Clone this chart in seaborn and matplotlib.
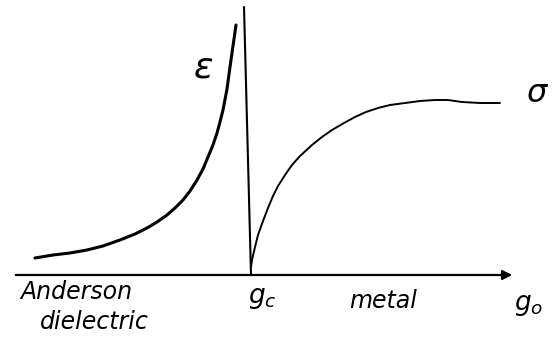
import matplotlib
matplotlib.use('Agg')
import matplotlib.pyplot as plt
import seaborn as sns

# values (g0 in arbitrary units, g_c at 251)
g_eps = [35, 53, 70, 87, 103, 120, 135, 147, 157, 167, 175, 183, 190, 197,
         203, 208, 213, 217, 220, 223, 227, 230, 233, 236]
eps = [17, 20, 22, 25, 29, 35, 41, 47, 53, 60, 67, 75, 84, 95,
       106, 118, 130, 142, 153, 165, 186, 208, 229, 250]

g_sigma = [251, 252, 255, 258, 263, 268, 273, 278, 285, 292, 300, 312, 322,
           332, 344, 355, 366, 378, 390, 405, 420, 435, 448, 462, 480, 500]
sigma = [8, 15, 28, 40, 54, 67, 79, 89, 100, 110, 119, 130, 138,
         145, 152, 158, 163, 167, 170, 172, 174, 175, 175, 173, 172, 172]

g_c = 251
g_axis = [13, 515]
line_top = 268

sns.set_style("white")
fig, ax = plt.subplots(figsize=(5.53, 3.39), dpi=100)
fig.subplots_adjust(left=0, right=1, bottom=0, top=1)

sns.lineplot(x=g_eps, y=eps, ax=ax, color='black', linewidth=2.2, sort=False)
sns.lineplot(x=g_sigma, y=sigma, ax=ax, color='black', linewidth=1.4, sort=False)

# vertical line at g_c, slightly slanted like the sketch
ax.plot([g_c - 7, g_c], [line_top, 0], color='black', linewidth=1.5)

# horizontal axis with arrow
ax.annotate('', xy=(g_axis[1], 0), xytext=(g_axis[0], 0),
            arrowprops=dict(arrowstyle='-|>', color='black', lw=1.6,
                            mutation_scale=14))

txt = dict(color='black', va='center')
ax.text(203, 207, r'$\varepsilon$', fontsize=26, ha='center', **txt)
ax.text(538, 182, r'$\sigma$', fontsize=23, ha='center', **txt)
ax.text(20, -17, 'Anderson', fontsize=17, style='italic', ha='left', **txt)
ax.text(40, -47, 'dielectric', fontsize=17, style='italic', ha='left', **txt)
ax.text(262, -23, r'$g_c$', fontsize=19, ha='center', **txt)
ax.text(383, -26, 'metal', fontsize=17, style='italic', ha='center', **txt)
ax.text(529, -30, r'$g_o$', fontsize=19, ha='center', **txt)

ax.set_xlim(0, 553)
ax.set_ylim(-64, 275)
ax.axis('off')

plt.savefig('out.png', dpi=100)
plt.close()
